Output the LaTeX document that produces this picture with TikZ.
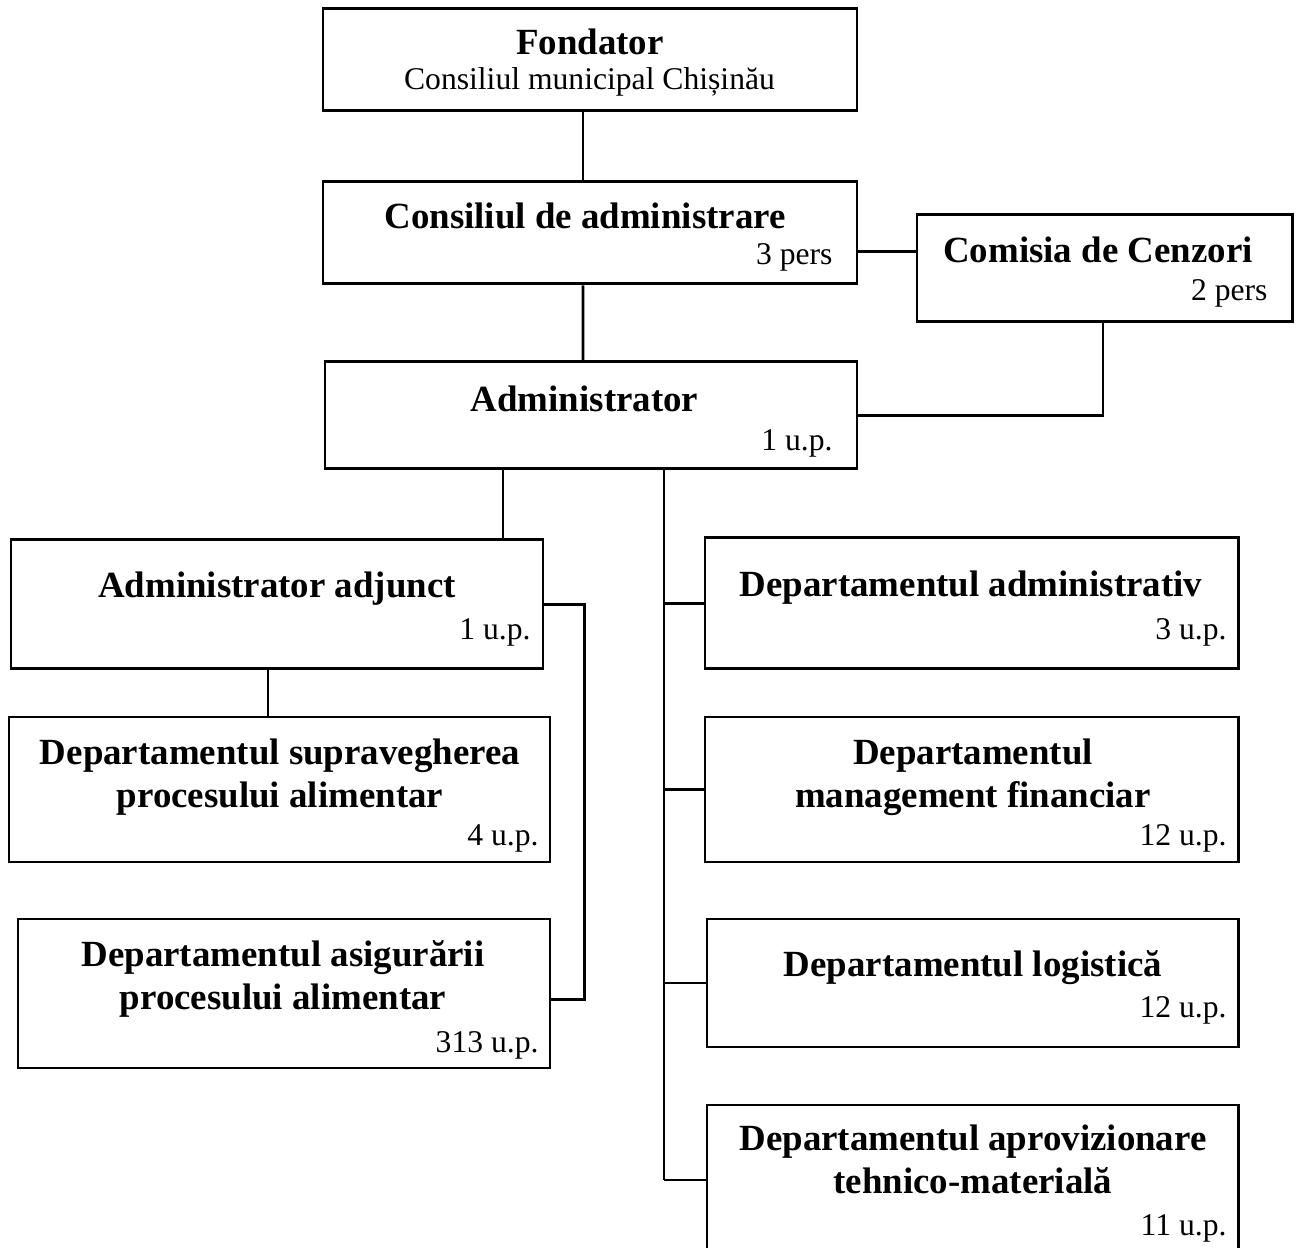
\documentclass[tikz,border=0pt]{standalone}
\usepackage{fontspec}
\setmainfont{Liberation Serif}
\begin{document}
\begin{tikzpicture}[line width=0.85pt,
    box/.style={rectangle, draw, inner sep=0pt},
    head/.style={font=\fontsize{10.5}{12.5}\selectfont\bfseries, align=center, anchor=base, inner sep=0pt},
    count/.style={font=\fontsize{9}{11}\selectfont, anchor=base east, inner sep=0pt}]
      \useasboundingbox (0,0) rectangle (13.01,-12.48);
      \node (1) at (5.90,-0.60) [box, minimum width=5.34cm, minimum height=1.02cm] {};
      \node (2) at (5.90,-2.33) [box, minimum width=5.34cm, minimum height=1.02cm] {};
      \node (3) at (11.045,-2.685) [box, minimum width=3.75cm, minimum height=1.07cm] {};
      \node (4) at (5.91,-4.155) [box, minimum width=5.32cm, minimum height=1.07cm] {};
      \node (5) at (2.77,-6.045) [box, minimum width=5.32cm, minimum height=1.29cm] {};
      \node (6) at (2.795,-7.895) [box, minimum width=5.41cm, minimum height=1.45cm] {};
      \node (7) at (2.84,-9.935) [box, minimum width=5.32cm, minimum height=1.49cm] {};
      \node (8) at (9.715,-6.035) [box, minimum width=5.33cm, minimum height=1.31cm] {};
      \node (9) at (9.715,-7.895) [box, minimum width=5.33cm, minimum height=1.45cm] {};
      \node (10) at (9.725,-9.83) [box, minimum width=5.31cm, minimum height=1.28cm] {};
      \node (11) at (9.725,-11.80) [box, minimum width=5.31cm, minimum height=1.50cm] {};
      % titles
      \node (t1) at (5.90,-0.55) [head] {Fondator};
      \node (s1) at (5.895,-0.90) [count, anchor=base] {Consiliul municipal Chișinău};
      \node (t2) at (5.85,-2.29) [head] {Consiliul de administrare};
      \node (t3) at (10.98,-2.63) [head] {Comisia de Cenzori};
      \node (t4) at (5.845,-4.12) [head] {Administrator};
      \node (t5) at (2.77,-5.98) [head] {Administrator adjunct};
      \node (t6) at (2.80,-8.08) [head] {Departamentul supravegherea\\procesului alimentar};
      \node (t7) at (2.83,-10.10) [head] {Departamentul asigurării\\procesului alimentar};
      \node (t8) at (9.71,-5.97) [head] {Departamentul administrativ};
      \node (t9) at (9.73,-8.08) [head] {Departamentul\\management financiar};
      \node (t10) at (9.73,-9.77) [head] {Departamentul logistică};
      \node (t11) at (9.73,-11.94) [head] {Departamentul aprovizionare\\tehnico-materială};
      % counts
      \node (n2) at (8.34,-2.65) [count] {3 pers};
      \node (n3) at (12.69,-3.01) [count] {2 pers};
      \node (n4) at (8.34,-4.51) [count] {1 u.p.};
      \node (n5) at (5.32,-6.40) [count] {1 u.p.};
      \node (n6) at (5.40,-8.46) [count] {4 u.p.};
      \node (n7) at (5.40,-10.53) [count] {313 u.p.};
      \node (n8) at (12.28,-6.40) [count] {3 u.p.};
      \node (n9) at (12.28,-8.46) [count] {12 u.p.};
      \node (n10) at (12.28,-10.18) [count] {12 u.p.};
      \node (n11) at (12.28,-12.36) [count] {11 u.p.};
      % links
      \coordinate (trk) at ([xshift=7.3mm]4.south);
      \draw ([xshift=-0.7mm]1.south) -- ([xshift=-0.7mm]2.north);
      \draw ([xshift=-0.7mm]2.south) -- ([xshift=-0.8mm]4.north);
      \draw ([yshift=-1.9mm]2.east) -- ([yshift=-1.9mm]2.east -| 3.west);
      \draw (4.east) -| ([xshift=-0.15mm]3.south);
      \draw ([xshift=-8.8mm]4.south) -- ([xshift=-8.8mm]4.south |- 5.north);
      \draw ([xshift=-0.9mm]5.south) -- ([xshift=-0.9mm]5.south |- 6.north);
      \draw (5.east) -- ++(0.40,0) |- ([yshift=-0.6mm]7.east);
      \draw (trk) -- (trk |- 11.west);
      \foreach \dest in {8,9,10,11}
        \path (\dest.west) edge (\dest.west -| trk);
\end{tikzpicture}
\end{document}
